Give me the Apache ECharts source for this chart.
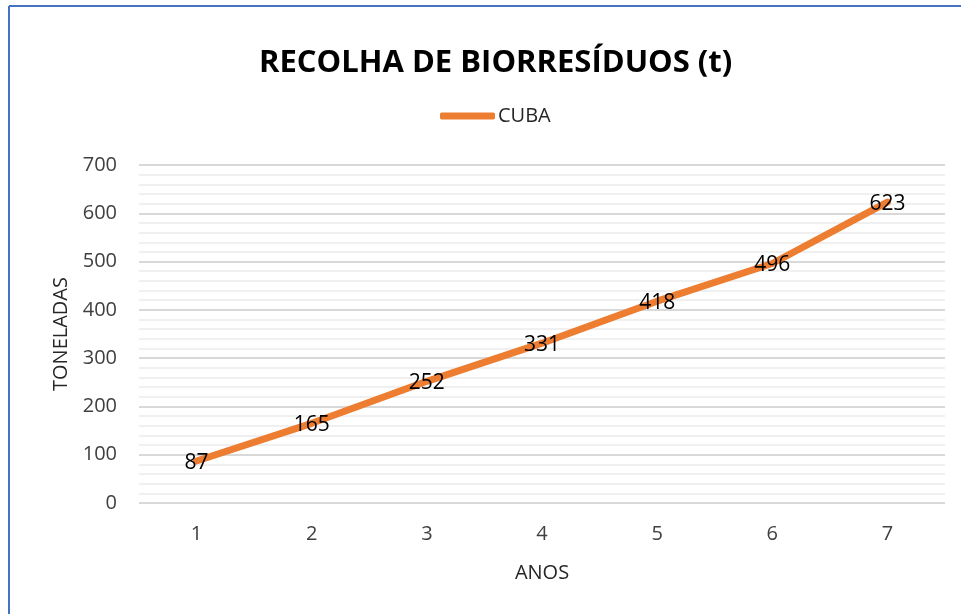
<!DOCTYPE html>
<html>
<head>
<meta charset="utf-8">
<script src="https://cdn.jsdelivr.net/npm/echarts@6/dist/echarts.min.js"></script>
<style>
html,body{margin:0;padding:0;background:#fff;}
#c{width:961px;height:614px;}
</style>
</head>
<body>
<div id="c"></div>
<script>
const categories = ['1','2','3','4','5','6','7'];
const cubaValues = [87,165,252,331,418,496,623];
const seriesName = 'CUBA';
const titleText = 'RECOLHA DE BIORRESÍDUOS (t)';

const chart = echarts.init(document.getElementById('c'));
const F = '"Open Sans", "Noto Sans", sans-serif';
chart.setOption({
  backgroundColor: '#fff',
  animation: false,
  title: {
    text: titleText, left: 254, top: 43,
    textStyle: {fontFamily: F, fontSize: 31, fontWeight: 'bold', color: '#000'}
  },
  legend: {
    top: 101, left: 435,
    data: [seriesName],
    icon: 'roundRect', itemWidth: 55, itemHeight: 7, itemGap: 4,
    textStyle: {fontFamily: F, fontSize: 20, color: '#262626', padding: [0,0,0,-2]}
  },
  grid: {left: 139, right: 16, top: 165, bottom: 111},
  xAxis: {
    type: 'category', data: categories, boundaryGap: true,
    name: 'ANOS', nameLocation: 'middle', nameGap: 60,
    nameTextStyle: {fontFamily: F, fontSize: 20, color: '#262626'},
    axisLine: {show: false}, axisTick: {show: false},
    axisLabel: {fontFamily: F, fontSize: 20, color: '#404040', margin: 21}
  },
  yAxis: {
    type: 'value', min: 0, max: 700, interval: 100,
    name: 'TONELADAS', nameLocation: 'middle', nameGap: 66,
    nameTextStyle: {fontFamily: F, fontSize: 20, color: '#262626'},
    axisLabel: {fontFamily: F, fontSize: 20, color: '#404040', margin: 22},
    splitLine: {lineStyle: {color: '#d9d9d9', width: 2}},
    minorTick: {show: false, splitNumber: 5},
    minorSplitLine: {show: true, lineStyle: {color: '#f0f0f0', width: 2}}
  },
  graphic: [
    {type: 'line', shape: {x1: 9, y1: 6, x2: 961, y2: 6}, style: {stroke: '#4472C4', lineWidth: 2}},
    {type: 'line', shape: {x1: 9, y1: 6, x2: 9, y2: 614}, style: {stroke: '#4472C4', lineWidth: 2}}
  ],
  series: [{
    name: seriesName, type: 'line', data: cubaValues,
    symbol: 'circle', symbolSize: 1, showSymbol: true,
    lineStyle: {color: '#ED7D31', width: 7, cap: 'round'},
    itemStyle: {color: '#ED7D31'},
    label: {show: true, position: 'inside', offset: [0, 2], fontFamily: F, fontSize: 21, color: '#000'}
  }]
});
</script>
</body>
</html>
